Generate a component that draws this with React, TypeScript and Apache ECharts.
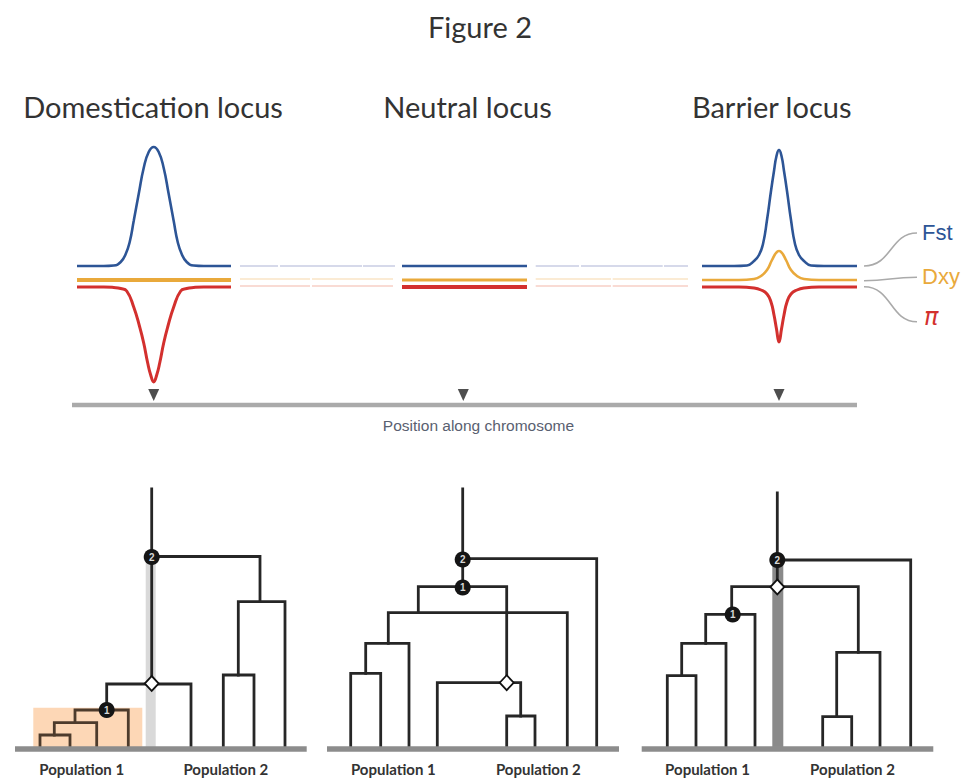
import { useEffect, useRef } from 'react';
import * as echarts from 'echarts';

// ---------- top panel data (x: position along chromosome, y: statistic level) ----------
const domFst = [[5,139],[31.7,139],[41.7,139.5],[48.7,143],[53.7,151],[57.7,163],[61.7,184],[66.7,211],[71.7,237],[76.7,253],[81.7,258],[86.7,253],[91.7,237],[96.7,211],[101.7,184],[105.7,163],[109.7,151],[114.7,143],[121.7,139.5],[131.7,139],[159,139]];
const domDxy = [[5,125],[159,125]];
const domPi = [[5,118],[31.7,118],[41.7,117.5],[48.7,116.5],[54.7,114],[61.7,98],[67.7,78],[71.7,62],[75.7,42],[78.7,30],[81.7,23],[84.7,30],[87.7,42],[91.7,62],[95.7,78],[101.7,98],[108.7,114],[114.7,116.5],[121.7,117.5],[131.7,118],[159,118]];
const neuFst = [[330,139],[455,139]];
const neuDxy = [[330,125],[455,125]];
const neuPi = [[330,118],[455,118]];
const barFst = [[630,139],[662,139],[675,139.5],[682,144],[687,150],[691,161],[695,185],[699,214],[702,234],[704.5,249],[707,255],[709.5,249],[712,234],[715,214],[719,185],[723,161],[727,150],[732,144],[739,139.5],[752,139],[785,139]];
const barDxy = [[630,125],[667,125],[682,126],[689,129],[695,135],[700,145],[704,152],[707,154],[710,152],[714,145],[719,135],[725,129],[732,126],[747,125],[785,125]];
const barPi = [[630,118],[667,118],[682,117],[689,115],[695,111],[699,103],[702,90],[704.5,76],[707,63],[709.5,76],[712,90],[715,103],[719,111],[725,115],[732,117],[747,118],[785,118]];
const fadedFstSegs = [[168,206],[208,290],[291,323],[463.7,507],[509,590.7],[592,616]];
const fadedDxySegs = [[168,238],[240,321],[463.7,539],[540.7,616]];
const fadedPiSegs = [[168,238],[240,321],[463.7,539],[540.7,616]];
const fadedLevels = { fst: 139, dxy: 126, pi: 119 };
const chromosome = [[0,0],[785,0]];
const locusMarks = [81.7, 391.3, 707];
const locusNames = ['Domestication locus', 'Neutral locus', 'Barrier locus'];
const legendNames = ['Fst', 'Dxy', 'π'];

// ---------- bottom panel data (x: tip position, y: time above present) ----------
const treeBranches = [
  // tree 1
  [[151.7,260],[151.7,65.5]],
  [[151.7,192.5],[260,192.5],[260,147.3]],
  [[238.3,74],[238.3,147.3],[285,147.3],[285,0]],
  [[223.3,0],[223.3,74],[254,74],[254,0]],
  [[106.7,39],[106.7,65],[191,65],[191,0]],
  // tree 2
  [[462.7,260],[462.7,162.3]],
  [[462.7,190.3],[596.7,190.3],[596.7,0]],
  [[418.3,136.3],[418.3,162.3],[506.7,162.3],[506.7,66.3]],
  [[388.3,105.7],[388.3,136.3],[567.3,136.3],[567.3,0]],
  [[365.7,75.7],[365.7,105.7],[409,105.7],[409,0]],
  [[350.7,0],[350.7,75.7],[380.7,75.7],[380.7,0]],
  [[437.3,0],[437.3,66.3],[520.7,66.3],[520.7,33]],
  [[506.7,0],[506.7,33],[535,33],[535,0]],
  // tree 3
  [[777.3,256],[777.3,162.3]],
  [[777.3,189],[910.7,189],[910.7,0]],
  [[731.7,134.7],[731.7,162.3],[858.3,162.3],[858.3,96.7]],
  [[705.7,105.7],[705.7,134.7],[755,134.7],[755,0]],
  [[681.7,73.3],[681.7,105.7],[726,105.7],[726,0]],
  [[667.3,0],[667.3,73.3],[696,73.3],[696,0]],
  [[836.7,32.3],[836.7,96.7],[880,96.7],[880,0]],
  [[822.7,0],[822.7,32.3],[851.7,32.3],[851.7,0]],
];
const highlightedBranches = [
  [[75,26.3],[75,39],[128.3,39],[128.3,0]],
  [[54.3,14],[54.3,26.3],[96.7,26.3],[96.7,0]],
  [[40,0],[40,14],[70,14],[70,0]],
];
const numberedNodes = [
  { name: '2', value: [151.7,192] },
  { name: '1', value: [106.7,39] },
  { name: '2', value: [462.7,189.5] },
  { name: '1', value: [462.7,161.5] },
  { name: '2', value: [777.3,189] },
  { name: '1', value: [732.7,134.5] },
];
const diamonds = [[151.7,65.5],[506.7,66.3],[777.3,162]];
const lightBands = [[145.7,155.7,189]];
const darkBands = [[772.3,783.3,184]];
const highlightBoxes = [[33.3,142.3,41.3]];
const grounds = [[15,306.7],[327,619],[641.7,933.3]];
const popLabelCenters = [[81.7,225.8],[393.3,538.3],[707.5,852.5]];
const popNames = ['Population 1', 'Population 2'];

const FST = '#2d5596';
const DXY = '#e9a93b';
const PI = '#d3302e';

const seg = (segs: number[][], y: number) => segs.map(s => ({ coords: [[s[0], y], [s[1], y]] }));

const curve = (data: number[][], color: string, width: number) => ({
  type: 'line', xAxisIndex: 0, yAxisIndex: 0, data, symbol: 'none', smooth: 0.5,
  lineStyle: { color, width }, z: 3, silent: true,
});

const rectSeries = (data: number[][], color: string, z: number, opacity = 1) => ({
  type: 'custom', xAxisIndex: 1, yAxisIndex: 1, data, z, silent: true,
  encode: { x: [0, 1], y: 2 },
  renderItem: (_p: any, api: any) => {
    const a = api.coord([api.value(0), api.value(2)]);
    const b = api.coord([api.value(1), 0]);
    return { type: 'rect', shape: { x: a[0], y: a[1], width: b[0] - a[0], height: b[1] - a[1] }, style: { fill: color, opacity } };
  },
});

const titleText = (text: string, cx: number, top: number, size: number, opts: any = {}) => ({
  text, left: cx, top, textAlign: 'center', padding: 0,
  textStyle: { fontFamily: 'Lato', fontSize: size, fontWeight: 'normal', color: '#333', ...opts },
});

export default function App() {
  const ref = useRef<HTMLDivElement>(null);
  useEffect(() => {
    document.body.style.margin = '0';
    const chart = echarts.init(ref.current!, null, { renderer: 'svg' });
    const titles: any[] = [
      titleText('Figure 2', 480, 12, 29),
      titleText(locusNames[0], 153, 92, 29),
      titleText(locusNames[1], 467.5, 92, 29),
      titleText(locusNames[2], 771.7, 92, 29),
      titleText('Position along chromosome', 478.5, 417, 15.5, { fontFamily: 'Liberation Sans', color: '#596070' }),
    ];
    popLabelCenters.forEach(pair => {
      pair.forEach((cx, i) => titles.push(titleText(popNames[i], cx, 761, 15, { fontWeight: 'bold', color: '#333' })));
    });

    const option: any = {
      animation: false,
      backgroundColor: '#fff',
      title: titles,
      grid: [
        { left: 72, top: 105, width: 785, height: 320, outerBoundsMode: 'none' },
        { left: 0, top: 479, width: 970, height: 280, outerBoundsMode: 'none' },
      ],
      xAxis: [
        { type: 'value', gridIndex: 0, min: 0, max: 785, show: false },
        { type: 'value', gridIndex: 1, min: 0, max: 970, show: false },
      ],
      yAxis: [
        { type: 'value', gridIndex: 0, min: -20, max: 300, show: false },
        { type: 'value', gridIndex: 1, min: -10, max: 270, show: false },
      ],
      graphic: [
        { type: 'bezierCurve', shape: { x1: 864, y1: 266, cpx1: 892, cpy1: 266, cpx2: 890, cpy2: 233, x2: 917, y2: 233 }, style: { stroke: '#aaa', lineWidth: 1.6, fill: null } },
        { type: 'bezierCurve', shape: { x1: 864, y1: 280.7, cpx1: 890, cpy1: 280.7, cpx2: 890, cpy2: 277.3, x2: 917, y2: 277.3 }, style: { stroke: '#aaa', lineWidth: 1.6, fill: null } },
        { type: 'bezierCurve', shape: { x1: 864, y1: 286.7, cpx1: 892, cpy1: 286.7, cpx2: 890, cpy2: 321.7, x2: 917, y2: 321.7 }, style: { stroke: '#aaa', lineWidth: 1.6, fill: null } },
        { type: 'text', left: 922, top: 221, style: { text: legendNames[0], fill: FST, font: '22px "Liberation Sans"' } },
        { type: 'text', left: 922, top: 265, style: { text: legendNames[1], fill: DXY, font: '22px "Liberation Sans"' } },
        { type: 'text', left: 924, top: 305, style: { text: legendNames[2], fill: PI, font: 'italic 24px "DejaVu Sans"' } },
      ],
      series: [
        // faded intergenic stretches
        { type: 'lines', coordinateSystem: 'cartesian2d', xAxisIndex: 0, yAxisIndex: 0, data: seg(fadedFstSegs, fadedLevels.fst), lineStyle: { color: '#c9cde3', width: 1.5, opacity: 1 }, z: 2, silent: true },
        { type: 'lines', coordinateSystem: 'cartesian2d', xAxisIndex: 0, yAxisIndex: 0, data: seg(fadedDxySegs, fadedLevels.dxy), lineStyle: { color: '#fae4c6', width: 1.5, opacity: 1 }, z: 2, silent: true },
        { type: 'lines', coordinateSystem: 'cartesian2d', xAxisIndex: 0, yAxisIndex: 0, data: seg(fadedPiSegs, fadedLevels.pi), lineStyle: { color: '#f7cfc6', width: 1.5, opacity: 1 }, z: 2, silent: true },
        // loci
        curve(domDxy, DXY, 4),
        curve(domPi, PI, 3),
        curve(domFst, FST, 2.6),
        curve(neuDxy, DXY, 3),
        curve(neuPi, PI, 4),
        curve(neuFst, FST, 2.6),
        curve(barDxy, DXY, 2.6),
        curve(barPi, PI, 3),
        curve(barFst, FST, 2.6),
        // chromosome bar
        { type: 'line', xAxisIndex: 0, yAxisIndex: 0, data: chromosome, symbol: 'none', lineStyle: { color: '#aaaaaa', width: 4.5 }, z: 2, silent: true },
        { type: 'scatter', xAxisIndex: 0, yAxisIndex: 0, data: locusMarks.map(x => [x, 10]), symbol: 'triangle', symbolRotate: 180, symbolSize: [11, 12], itemStyle: { color: '#222' }, z: 4, silent: true },

        // trees
        rectSeries(highlightBoxes, '#fdd7b6', 1),
        rectSeries(lightBands, '#d9d9d9', 1),
        rectSeries(darkBands, '#8a8a8a', 1),
        { type: 'lines', coordinateSystem: 'cartesian2d', xAxisIndex: 1, yAxisIndex: 1, polyline: true, data: treeBranches.map(c => ({ coords: c })), lineStyle: { color: '#262626', width: 2.8, opacity: 1, join: 'miter', cap: 'square' }, z: 2, silent: true },
        { type: 'lines', coordinateSystem: 'cartesian2d', xAxisIndex: 1, yAxisIndex: 1, polyline: true, data: highlightedBranches.map(c => ({ coords: c })), lineStyle: { color: '#4d3b2c', width: 2.8, opacity: 1, join: 'miter', cap: 'square' }, z: 2, silent: true },
        { type: 'lines', coordinateSystem: 'cartesian2d', xAxisIndex: 1, yAxisIndex: 1, data: grounds.map(g => ({ coords: [[g[0], 0], [g[1], 0]] })), lineStyle: { color: '#8c8c8c', width: 5.5, opacity: 1 }, z: 3, silent: true },
        { type: 'scatter', xAxisIndex: 1, yAxisIndex: 1, data: diamonds, symbol: 'diamond', symbolSize: [14, 15], itemStyle: { color: '#fff', borderColor: '#111', borderWidth: 1.8, opacity: 1 }, z: 5, silent: true },
        { type: 'scatter', xAxisIndex: 1, yAxisIndex: 1, data: numberedNodes, symbol: 'circle', symbolSize: 16, itemStyle: { color: '#151515', opacity: 1 }, z: 6, silent: true,
          label: { show: true, position: 'inside', formatter: '{b}', color: '#d8d8d8', fontSize: 10, fontWeight: 'bold', fontFamily: 'Liberation Sans' } },
      ],
    };
    chart.setOption(option);
    return () => chart.dispose();
  }, []);
  return <div ref={ref} style={{ width: 970, height: 780 }} />;
}
